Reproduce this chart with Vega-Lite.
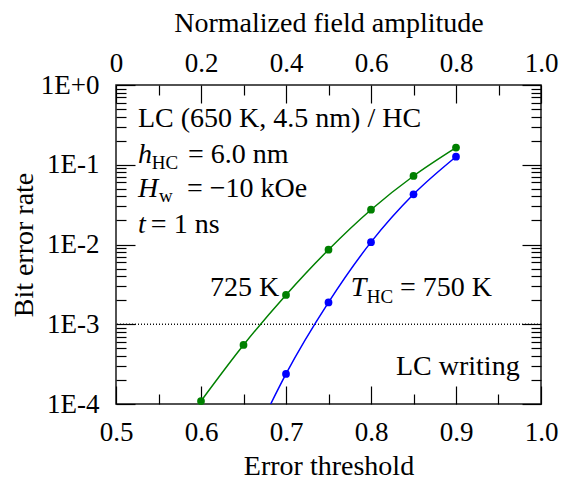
{
  "$schema": "https://vega.github.io/schema/vega-lite/v6.json",
  "width": 425,
  "height": 319,
  "autosize": "none",
  "padding": {"left": 116, "top": 85, "right": 30, "bottom": 75},
  "background": "white",
  "config": {
    "view": {"stroke": "#1a1a1a", "strokeWidth": 1.5},
    "font": "Liberation Serif",
    "axis": {
      "domain": false, "grid": false,
      "labelFont": "Liberation Serif", "titleFont": "Liberation Serif",
      "labelFontSize": 27, "titleFontSize": 28, "titleFontWeight": "normal",
      "labelColor": "black", "titleColor": "black", "tickColor": "black", "tickWidth": 1.2,
      "labelFlush": false, "labelOverlap": false, "labelBound": false
    }
  },
  "datasets": {
    "frame": [
      {"amp": 0, "threshold": 0.5, "ber": 0.0001},
      {"amp": 1, "threshold": 1.0, "ber": 1}
    ],
    "ber": [
      {"series": "725 K", "threshold": 0.60, "ber": 0.000109},
      {"series": "725 K", "threshold": 0.65, "ber": 0.00055},
      {"series": "725 K", "threshold": 0.70, "ber": 0.00233},
      {"series": "725 K", "threshold": 0.75, "ber": 0.0086},
      {"series": "725 K", "threshold": 0.80, "ber": 0.0273},
      {"series": "725 K", "threshold": 0.85, "ber": 0.0723},
      {"series": "725 K", "threshold": 0.90, "ber": 0.164},
      {"series": "750 K", "threshold": 0.70, "ber": 0.000238},
      {"series": "750 K", "threshold": 0.75, "ber": 0.00188},
      {"series": "750 K", "threshold": 0.80, "ber": 0.0107},
      {"series": "750 K", "threshold": 0.85, "ber": 0.0426},
      {"series": "750 K", "threshold": 0.90, "ber": 0.126}
    ],
    "curve": [
      {"series": "725 K", "threshold": 0.60, "ber": 0.000109},
      {"series": "725 K", "threshold": 0.65, "ber": 0.00055},
      {"series": "725 K", "threshold": 0.70, "ber": 0.00233},
      {"series": "725 K", "threshold": 0.75, "ber": 0.0086},
      {"series": "725 K", "threshold": 0.80, "ber": 0.0273},
      {"series": "725 K", "threshold": 0.85, "ber": 0.0723},
      {"series": "725 K", "threshold": 0.90, "ber": 0.164},
      {"series": "750 K", "threshold": 0.682, "ber": 0.0001},
      {"series": "750 K", "threshold": 0.70, "ber": 0.000238},
      {"series": "750 K", "threshold": 0.75, "ber": 0.00188},
      {"series": "750 K", "threshold": 0.80, "ber": 0.0107},
      {"series": "750 K", "threshold": 0.85, "ber": 0.0426},
      {"series": "750 K", "threshold": 0.90, "ber": 0.126}
    ],
    "notes": [
      {"role": "main", "threshold": 0.5259, "ber": 0.300, "text": "LC (650 K, 4.5 nm) / HC"},
      {"role": "var", "threshold": 0.5259, "ber": 0.1061, "text": "h"},
      {"role": "sub", "threshold": 0.5420, "ber": 0.0877, "text": "HC"},
      {"role": "main", "threshold": 0.5847, "ber": 0.1061, "text": "= 6.0 nm"},
      {"role": "var", "threshold": 0.5259, "ber": 0.0397, "text": "H"},
      {"role": "sub", "threshold": 0.5506, "ber": 0.0344, "text": "w"},
      {"role": "main", "threshold": 0.5835, "ber": 0.0397, "text": "= −10 kOe"},
      {"role": "var", "threshold": 0.5259, "ber": 0.01406, "text": "t"},
      {"role": "main", "threshold": 0.5410, "ber": 0.01406, "text": "= 1 ns"},
      {"role": "main", "threshold": 0.6106, "ber": 0.00228, "text": "725 K"},
      {"role": "var", "threshold": 0.7761, "ber": 0.00228, "text": "T"},
      {"role": "sub", "threshold": 0.7949, "ber": 0.001832, "text": "HC"},
      {"role": "main", "threshold": 0.8341, "ber": 0.00228, "text": "= 750 K"},
      {"role": "main", "threshold": 0.8294, "ber": 0.000231, "text": "LC writing"}
    ]
  },
  "layer": [
    {
      "data": {"name": "frame"},
      "mark": {"type": "point", "opacity": 0},
      "encoding": {
        "x": {"field": "threshold", "type": "quantitative",
          "scale": {"domain": [0.5, 1.0], "nice": false, "zero": false},
          "axis": {"orient": "bottom", "values": [0.5, 0.6, 0.7, 0.8, 0.9, 1.0], "format": ".1f",
            "tickSize": -18, "labelPadding": 33, "title": "Error threshold", "titlePadding": 7}},
        "y": {"field": "ber", "type": "quantitative",
          "scale": {"type": "log", "domain": [0.0001, 1], "nice": false},
          "axis": {"orient": "left", "values": [0.0001, 0.001, 0.01, 0.1, 1],
            "labelExpr": "datum.value >= 0.999 ? '1E+0' : '1E' + round(log(datum.value) / LN10)",
            "tickSize": -19, "labelPadding": 36, "title": "Bit error rate", "titlePadding": 2}}
      }
    },
    {
      "data": {"name": "frame"},
      "mark": {"type": "point", "opacity": 0},
      "encoding": {
        "x": {"field": "threshold", "type": "quantitative",
          "scale": {"domain": [0.5, 1.0], "nice": false, "zero": false},
          "axis": {"orient": "bottom", "values": [0.55, 0.65, 0.75, 0.85, 0.95],
            "tickSize": -10, "labels": false, "title": null}},
        "y": {"field": "ber", "type": "quantitative",
          "scale": {"type": "log", "domain": [0.0001, 1], "nice": false},
          "axis": {"orient": "left",
            "values": [0.0002, 0.0003, 0.0004, 0.0005, 0.0006, 0.0007, 0.0008, 0.0009,
                       0.002, 0.003, 0.004, 0.005, 0.006, 0.007, 0.008, 0.009,
                       0.02, 0.03, 0.04, 0.05, 0.06, 0.07, 0.08, 0.09,
                       0.2, 0.3, 0.4, 0.5, 0.6, 0.7, 0.8, 0.9],
            "tickSize": -10, "labels": false, "title": null}}
      }
    },
    {
      "data": {"name": "frame"},
      "mark": {"type": "point", "opacity": 0},
      "encoding": {
        "x": {"field": "amp", "type": "quantitative",
          "scale": {"domain": [0, 1.0], "nice": false, "zero": false},
          "axis": {"orient": "top", "values": [0, 0.2, 0.4, 0.6, 0.8, 1.0],
            "labelExpr": "datum.value == 0 ? '0' : format(datum.value, '.1f')",
            "tickSize": -18, "labelPadding": 26, "title": "Normalized field amplitude", "titlePadding": 12}},
        "y": {"field": "ber", "type": "quantitative",
          "scale": {"type": "log", "domain": [0.0001, 1], "nice": false},
          "axis": {"orient": "right", "values": [0.0001, 0.001, 0.01, 0.1, 1],
            "tickSize": -19, "labels": false, "title": null}}
      }
    },
    {
      "data": {"name": "frame"},
      "mark": {"type": "point", "opacity": 0},
      "encoding": {
        "x": {"field": "amp", "type": "quantitative",
          "scale": {"domain": [0, 1.0], "nice": false, "zero": false},
          "axis": {"orient": "top", "values": [0.1, 0.3, 0.5, 0.7, 0.9],
            "tickSize": -10, "labels": false, "title": null}},
        "y": {"field": "ber", "type": "quantitative",
          "scale": {"type": "log", "domain": [0.0001, 1], "nice": false},
          "axis": {"orient": "right",
            "values": [0.0002, 0.0003, 0.0004, 0.0005, 0.0006, 0.0007, 0.0008, 0.0009,
                       0.002, 0.003, 0.004, 0.005, 0.006, 0.007, 0.008, 0.009,
                       0.02, 0.03, 0.04, 0.05, 0.06, 0.07, 0.08, 0.09,
                       0.2, 0.3, 0.4, 0.5, 0.6, 0.7, 0.8, 0.9],
            "tickSize": -10, "labels": false, "title": null}}
      }
    },
    {
      "data": {"name": "frame"},
      "mark": {"type": "rule", "color": "black", "strokeWidth": 1, "strokeDash": [1, 2]},
      "encoding": {
        "y": {"datum": 0.001, "type": "quantitative",
          "scale": {"type": "log", "domain": [0.0001, 1], "nice": false}, "axis": null}
      }
    },
    {
      "data": {"name": "curve"},
      "mark": {"type": "line", "interpolate": "monotone", "strokeWidth": 1.5, "clip": true},
      "encoding": {
        "x": {"field": "threshold", "type": "quantitative",
          "scale": {"domain": [0.5, 1.0], "nice": false, "zero": false}, "axis": null},
        "y": {"field": "ber", "type": "quantitative",
          "scale": {"type": "log", "domain": [0.0001, 1], "nice": false}, "axis": null},
        "color": {"field": "series", "type": "nominal",
          "scale": {"domain": ["725 K", "750 K"], "range": ["#008000", "#0000ff"]}, "legend": null}
      }
    },
    {
      "data": {"name": "ber"},
      "mark": {"type": "circle", "size": 60, "opacity": 1},
      "encoding": {
        "x": {"field": "threshold", "type": "quantitative",
          "scale": {"domain": [0.5, 1.0], "nice": false, "zero": false}, "axis": null},
        "y": {"field": "ber", "type": "quantitative",
          "scale": {"type": "log", "domain": [0.0001, 1], "nice": false}, "axis": null},
        "color": {"field": "series", "type": "nominal",
          "scale": {"domain": ["725 K", "750 K"], "range": ["#008000", "#0000ff"]}, "legend": null}
      }
    },
    {
      "data": {"name": "notes"},
      "transform": [{"filter": "datum.role == 'main'"}],
      "mark": {"type": "text", "align": "left", "baseline": "alphabetic", "fontSize": 28, "font": "Liberation Serif", "color": "black"},
      "encoding": {
        "x": {"field": "threshold", "type": "quantitative",
          "scale": {"domain": [0.5, 1.0], "nice": false, "zero": false}, "axis": null},
        "y": {"field": "ber", "type": "quantitative",
          "scale": {"type": "log", "domain": [0.0001, 1], "nice": false}, "axis": null},
        "text": {"field": "text"}
      }
    },
    {
      "data": {"name": "notes"},
      "transform": [{"filter": "datum.role == 'var'"}],
      "mark": {"type": "text", "align": "left", "baseline": "alphabetic", "fontSize": 28, "fontStyle": "italic", "font": "Liberation Serif", "color": "black"},
      "encoding": {
        "x": {"field": "threshold", "type": "quantitative",
          "scale": {"domain": [0.5, 1.0], "nice": false, "zero": false}, "axis": null},
        "y": {"field": "ber", "type": "quantitative",
          "scale": {"type": "log", "domain": [0.0001, 1], "nice": false}, "axis": null},
        "text": {"field": "text"}
      }
    },
    {
      "data": {"name": "notes"},
      "transform": [{"filter": "datum.role == 'sub'"}],
      "mark": {"type": "text", "align": "left", "baseline": "alphabetic", "fontSize": 19, "font": "Liberation Serif", "color": "black"},
      "encoding": {
        "x": {"field": "threshold", "type": "quantitative",
          "scale": {"domain": [0.5, 1.0], "nice": false, "zero": false}, "axis": null},
        "y": {"field": "ber", "type": "quantitative",
          "scale": {"type": "log", "domain": [0.0001, 1], "nice": false}, "axis": null},
        "text": {"field": "text"}
      }
    }
  ],
  "resolve": {
    "scale": {"x": "independent", "y": "independent", "color": "shared"},
    "axis": {"x": "independent", "y": "independent"}
  }
}
